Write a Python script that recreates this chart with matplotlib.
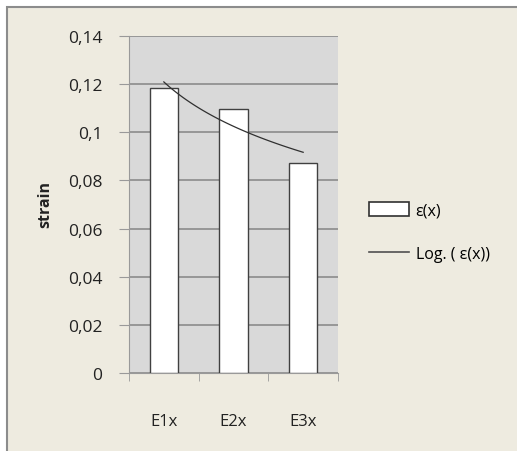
import numpy as np
import matplotlib.pyplot as plt
from matplotlib.patches import Rectangle
from matplotlib.lines import Line2D

# data
categories = ["E1x", "E2x", "E3x"]
strain = [0.1183, 0.1096, 0.0872]
y_ticks = [0, 0.02, 0.04, 0.06, 0.08, 0.1, 0.12, 0.14]
y_labels = ["0", "0,02", "0,04", "0,06", "0,08", "0,1", "0,12", "0,14"]

W, H = 517, 452
fig = plt.figure(figsize=(W / 100, H / 100), dpi=100, facecolor="white")
plt.rcParams['font.family'] = ['Open Sans', 'DejaVu Sans']

# beige chart area with grey frame (cut on right and bottom)
fig.patches.append(Rectangle((6.5 / W, -0.01), 1.1, (H - 7.5) / H + 0.01,
                             transform=fig.transFigure, facecolor="#EEEBE0",
                             edgecolor="#8C8C8C", linewidth=1.5, zorder=-1))

left, right, top, bottom = 129, 338, 37, 374
ax = fig.add_axes([left / W, 1 - bottom / H, (right - left) / W, (bottom - top) / H])
ax.set_zorder(2)
ax.set_facecolor("#D9D9D9")

x = np.arange(1, len(categories) + 1)
ax.bar(x, strain, width=0.41, color="white", edgecolor="#404040", linewidth=1.0, zorder=3)

# logarithmic trendline fitted like Excel does
a, b = np.polyfit(np.log(x), strain, 1)
xs = np.linspace(1, 3, 100)
ax.plot(xs, a * np.log(xs) + b, color="#303030", linewidth=0.9, zorder=4)

ax.set_xlim(0.5, 3.5)
ax.set_ylim(0, 0.14)
ax.set_yticks(y_ticks)
ax.set_yticklabels(y_labels)
ax.set_xticks(x)
ax.set_xticklabels(categories)
ax.set_xticks([0.5, 1.5, 2.5, 3.5], minor=True)
ax.tick_params(axis="x", which="major", length=0, pad=29, labelsize=12, colors="#222222")
ax.tick_params(axis="x", which="minor", length=6, color="#999999")
ax.tick_params(axis="y", length=7, color="#999999", pad=12, labelsize=12.5, labelcolor="#222222")
ax.yaxis.grid(True, color="#8C8C8C", linewidth=1.2)
ax.set_axisbelow(True)
for s in ["top", "right"]:
    ax.spines[s].set_visible(False)
ax.spines["left"].set_color("#999999")
ax.spines["bottom"].set_color("#999999")

fig.text(45 / W, 1 - 205 / H, "strain", rotation=90, ha="center", va="center",
         fontsize=11.5, fontweight="bold", color="#222222", zorder=3)

handles = [Rectangle((0, 0), 1, 1, facecolor="white", edgecolor="#303030", linewidth=1.2),
           Line2D([0], [0], color="#505050", linewidth=1.2)]
leg = fig.legend(handles, ["ε(x)", "Log. ( ε(x))"], loc="center left",
                 bbox_to_anchor=(355 / W, 1 - 233 / H), frameon=False,
                 fontsize=11.5, handlelength=2.5, handleheight=1.0,
                 labelspacing=1.7, handletextpad=0.4)
leg.set_zorder(3)

fig.savefig("out.png", dpi=100, facecolor="white")
